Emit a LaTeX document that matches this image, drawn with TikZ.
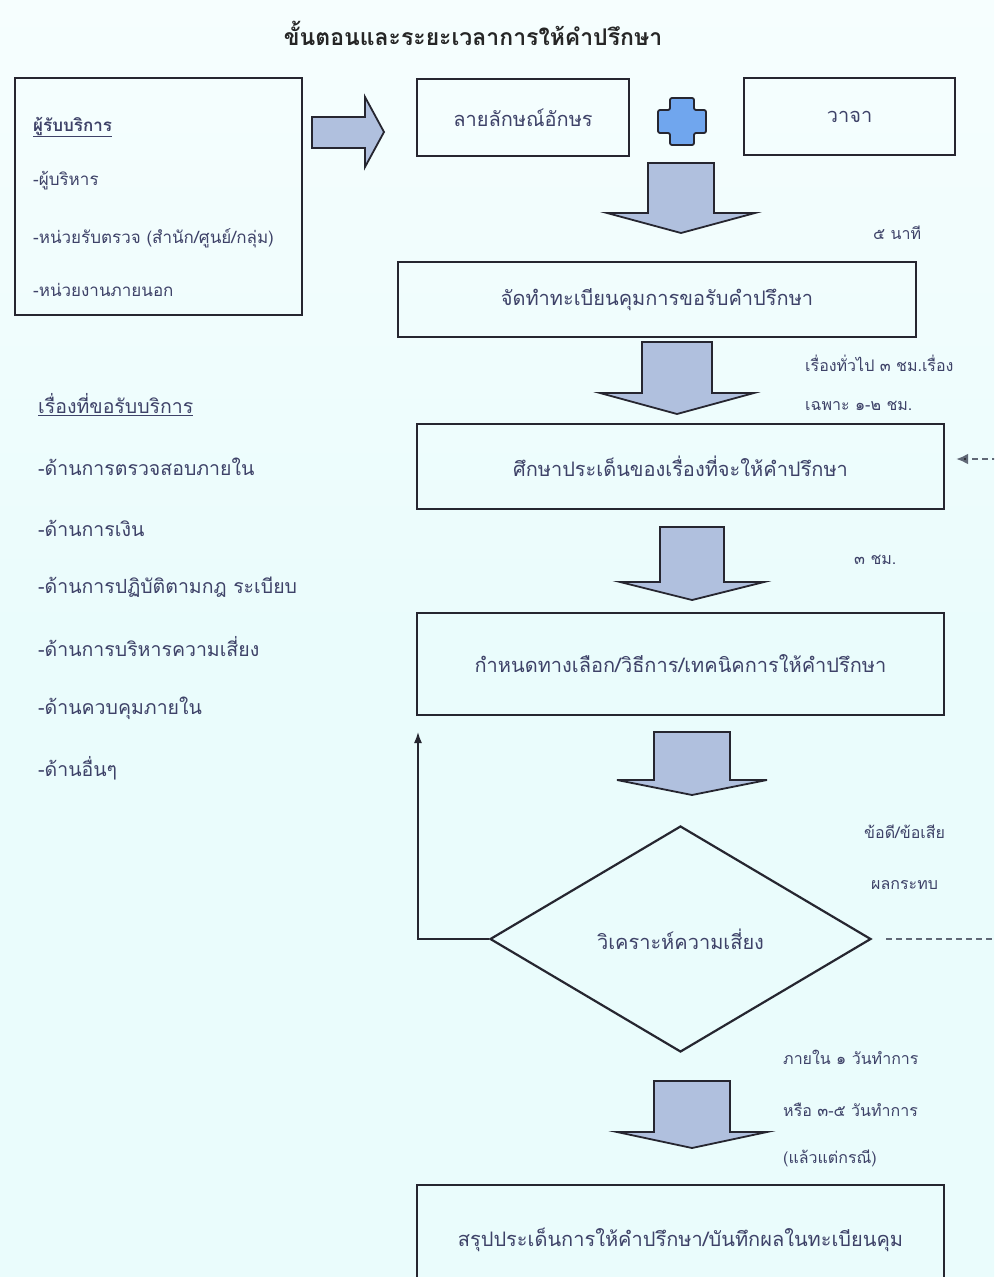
\documentclass[tikz,border=0pt]{standalone}
\usepackage{fontspec}
\newfontfamily\thaifont[Script=Thai]{Loma}
\usetikzlibrary{shapes.geometric}
\usetikzlibrary{arrows.meta}

\definecolor{paper}{RGB}{234,252,252}
\definecolor{paperlight}{RGB}{246,254,254}
\definecolor{edgegray}{RGB}{38,38,48}
\definecolor{arrowfill}{RGB}{176,192,222}
\definecolor{plusblue}{RGB}{112,166,238}
\definecolor{txtgray}{RGB}{62,66,104}
\definecolor{dashgray}{RGB}{96,104,118}

\newcommand{\thaititle}{\thaifont\bfseries\fontsize{23}{27}\selectfont}
\newcommand{\thaibox}{\thaifont\fontsize{20}{24}\selectfont}
\newcommand{\thaiitem}{\thaifont\fontsize{19.5}{23}\selectfont}
\newcommand{\thaiclient}{\thaifont\fontsize{17}{21}\selectfont}
\newcommand{\thainote}{\thaifont\fontsize{16}{19}\selectfont}

% block arrow pointing down: centre x, shaft half, head half, top, neck, tip
\newcommand{\downblock}[6]{%
  \draw[blockarrow] (#1-#2,#4) -- (#1+#2,#4) -- (#1+#2,#5) -- (#1+#3,#5)
    -- (#1,#6) -- (#1-#3,#5) -- (#1-#2,#5) -- cycle;}

\begin{document}
\begin{tikzpicture}[x=1pt,y=-1pt,
    stepbox/.style={draw=edgegray, line width=2.2pt, text=txtgray, font=\thaibox, inner sep=0pt},
    itemtext/.style={anchor=west, text=txtgray, font=\thaiitem, inner sep=0pt},
    clienttext/.style={anchor=west, text=txtgray, font=\thaiclient, inner sep=0pt},
    notetext/.style={anchor=west, text=txtgray, font=\thainote, inner sep=0pt},
    blockarrow/.style={draw=edgegray, line width=1.8pt, fill=arrowfill, line join=miter}]

    % Background
    \useasboundingbox (0,0) rectangle (994,1277);
    \shade[top color=paperlight, bottom color=paper, middle color=paper] (0,0) rectangle (994,1277);
    \clip (0,0) rectangle (994,1277);

    % Title
    \node[font=\thaititle, text=black!85] (title) at (473,33) {ขั้นตอนและระยะเวลาการให้คำปรึกษา};

    % Clients box
    \node[draw=edgegray, line width=2.6pt, minimum width=287, minimum height=237] (clientbox) at (158.5,196.5) {};
    \node[clienttext] (clienthead) at (33,127) {\underline{\textbf{ผู้รับบริการ}}};
    \node[clienttext] (client1) at (33,181) {-ผู้บริหาร};
    \node[clienttext] (client2) at (33,238) {-หน่วยรับตรวจ (สำนัก/ศูนย์/กลุ่ม)};
    \node[clienttext] (client3) at (33,290) {-หน่วยงานภายนอก};

    \draw[blockarrow] (312,117) -- (365,117) -- (365,97) -- (384,132) -- (365,167) -- (365,148) -- (312,148) -- cycle;

    % Topics list
    \node[itemtext] (topichead) at (38,405) {\underline{เรื่องที่ขอรับบริการ}};
    \node[itemtext] (topic1) at (38,467) {-ด้านการตรวจสอบภายใน};
    \node[itemtext] (topic2) at (38,528) {-ด้านการเงิน};
    \node[itemtext] (topic3) at (38,587) {-ด้านการปฏิบัติตามกฎ ระเบียบ};
    \node[itemtext] (topic4) at (38,647) {-ด้านการบริหารความเสี่ยง};
    \node[itemtext] (topic5) at (38,708) {-ด้านควบคุมภายใน};
    \node[itemtext] (topic6) at (38,768) {-ด้านอื่นๆ};

    % Request channels
    \node[stepbox, minimum width=212, minimum height=77] (written) at (523,117.5) {ลายลักษณ์อักษร};
    \node[stepbox, minimum width=211, minimum height=77] (spoken) at (849.5,116.5) {วาจา};
    \draw[draw=edgegray, line width=1.8pt, fill=plusblue, rounded corners=2pt]
        (670,98) -- (694,98) -- (694,110) -- (706,110) -- (706,133) -- (694,133) -- (694,145)
        -- (670,145) -- (670,133) -- (658,133) -- (658,110) -- (670,110) -- cycle;

    \downblock{681}{33}{74}{163}{213}{233}
    \node[notetext] (note1) at (873,233) {๕ นาที};

    % Main steps
    \node[stepbox, minimum width=518, minimum height=75] (register) at (657,299.5) {จัดทำทะเบียนคุมการขอรับคำปรึกษา};

    \downblock{677}{35}{77}{342}{393}{414}
    \node[notetext] (note2a) at (805,363) {เรื่องทั่วไป ๓ ชม.เรื่อง};
    \node[notetext] (note2b) at (805,406) {เฉพาะ ๑-๒ ชม.};

    \node[stepbox, minimum width=527, minimum height=85] (study) at (680.5,466.5) {ศึกษาประเด็นของเรื่องที่จะให้คำปรึกษา};

    \downblock{692}{32}{72}{527}{582}{600}
    \node[notetext] (note3) at (854,560) {๓ ชม.};

    \node[stepbox, minimum width=527, minimum height=102] (method) at (680.5,664) {กำหนดทางเลือก/วิธีการ/เทคนิคการให้คำปรึกษา};

    \downblock{692}{38}{75}{732}{780}{795}

    \node[diamond, draw=edgegray, line width=2.2pt, text=txtgray, font=\thaibox, aspect=1.7,
          minimum width=381, minimum height=226, inner sep=0pt] (risk) at (680.5,939) {วิเคราะห์ความเสี่ยง};
    \node[notetext] (note4a) at (864,832) {ข้อดี/ข้อเสีย};
    \node[notetext] (note4b) at (871,885) {ผลกระทบ};

    % Loop back to the method step
    \coordinate (looptop) at (418,732);
    \draw[line width=1.5pt, draw=edgegray, -{Latex[length=11pt,width=8pt]}] (risk.west) -- (risk.west -| looptop) -- (looptop);

    % Dashed return to the study step
    \coordinate (backtop) at (1012,459);
    \draw[line width=2.6pt, draw=dashgray, dash pattern=on 6pt off 4pt, shorten <=14pt, shorten >=11pt,
          -{Latex[length=12pt,width=11pt,fill=black]}]
        (risk.east) -- (risk.east -| backtop) -- (backtop) -- (study.east |- backtop);

    \downblock{692}{38}{75}{1081}{1132}{1148}
    \node[notetext] (note5a) at (783,1057) {ภายใน ๑ วันทำการ};
    \node[notetext] (note5b) at (783,1110) {หรือ ๓-๕ วันทำการ};
    \node[notetext] (note5c) at (783,1158) {(แล้วแต่กรณี)};

    \node[stepbox, minimum width=527, minimum height=110] (summary) at (680.5,1240) {สรุปประเด็นการให้คำปรึกษา/บันทึกผลในทะเบียนคุม};

\end{tikzpicture}
\end{document}
